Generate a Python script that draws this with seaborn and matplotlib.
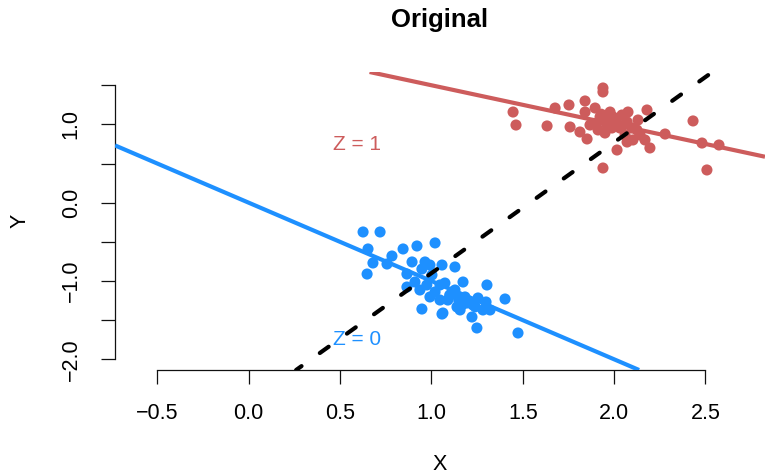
import matplotlib
matplotlib.use("Agg")
import matplotlib.pyplot as plt
import seaborn as sns
import numpy as np
import pandas as pd

# ---- data ----
x_z0 = [0.626, 0.719, 0.653, 0.680, 0.648, 0.757, 0.784, 0.845, 0.921, 1.020,
        0.894, 0.866, 0.948, 0.992, 1.058, 0.910, 0.866, 0.975, 1.020, 1.047,
        0.948, 1.058, 1.129, 1.074, 1.173, 1.304, 1.063, 1.140, 1.146, 1.222,
        1.249, 1.282, 1.321, 1.403, 1.474, 1.113, 1.195, 1.228, 1.157, 1.003,
        1.090, 1.184, 0.937, 0.992, 1.129, 1.255, 1.047, 0.965, 1.211, 1.299,
        1.150, 1.170, 1.100, 1.240]
y_z0 = [-0.374, -0.374, -0.591, -0.770, -0.911, -0.783, -0.681, -0.591, -0.553, -0.514,
        -0.757, -0.911, -0.847, -0.796, -0.796, -1.013, -1.077, -1.051, -1.140, -1.243,
        -1.358, -1.422, -0.821, -1.026, -1.013, -1.051, -1.409, -1.332, -1.204, -1.460,
        -1.600, -1.370, -1.370, -1.230, -1.664, -1.140, -1.281, -1.307, -1.370, -0.923,
        -1.243, -1.204, -1.115, -1.204, -1.115, -1.217, -1.051, -0.757, -1.268, -1.268,
        -1.250, -1.300, -1.180, -1.330]

x_z1 = [1.447, 1.463, 1.633, 1.677, 1.753, 1.841, 1.939, 1.939, 1.759, 1.813,
        1.852, 1.841, 1.896, 1.923, 1.978, 1.994, 1.961, 1.950, 1.906, 1.868,
        2.076, 2.180, 2.071, 2.098, 2.125, 2.142, 2.103, 2.071, 2.169, 2.196,
        2.016, 1.939, 2.279, 2.432, 2.481, 2.574, 2.508, 2.131, 2.032, 1.988,
        2.060, 1.912, 2.010, 2.043, 1.960, 2.000, 1.930, 2.050]
y_z1 = [1.158, 0.992, 0.980, 1.209, 1.248, 1.299, 1.465, 1.414, 0.967, 0.903,
        0.814, 1.158, 1.209, 1.095, 1.158, 1.095, 0.992, 0.890, 1.018, 0.992,
        1.158, 1.184, 1.031, 0.954, 0.929, 0.865, 0.801, 0.775, 0.801, 0.699,
        0.673, 0.443, 0.877, 1.044, 0.762, 0.737, 0.418, 1.056, 0.954, 0.954,
        0.865, 0.929, 1.056, 1.120, 1.050, 1.010, 1.130, 0.990]

# fitted lines: (intercept, slope)
line_z0 = (0.0, -1.0)
line_z1 = (2.0, -0.5)
line_all = (-2.57, 1.67)

x_ticks = [-0.5, 0.0, 0.5, 1.0, 1.5, 2.0, 2.5]
y_ticks = [-2.0, -1.5, -1.0, -0.5, 0.0, 0.5, 1.0, 1.5]
y_tick_labels = ["\u22122.0", "", "\u22121.0", "", "0.0", "", "1.0", ""]
x_tick_labels = ["\u22120.5", "0.0", "0.5", "1.0", "1.5", "2.0", "2.5"]

label_z0 = ("Z = 0", 0.595, -1.753)
label_z1 = ("Z = 1", 0.593, 0.737)

BLUE = "#1E90FF"
RED = "#CD5C5C"

df = pd.DataFrame({
    "X": x_z0 + x_z1,
    "Y": y_z0 + y_z1,
    "Z": ["0"] * len(x_z0) + ["1"] * len(x_z1),
})

sns.set_style("white")
plt.rcParams["font.family"] = ["Liberation Sans", "DejaVu Sans"]
plt.rcParams["text.color"] = "black"
plt.rcParams["axes.labelcolor"] = "black"

W, H = 765, 474
fig = plt.figure(figsize=(W / 100, H / 100), dpi=100)
ax = fig.add_axes([115 / W, 104 / H, 650 / W, 298 / H])

sns.scatterplot(data=df, x="X", y="Y", hue="Z", palette={"0": BLUE, "1": RED},
                s=64, edgecolor="none", linewidth=0, legend=False, ax=ax, zorder=2)

ax.axline((0, line_z0[0]), slope=line_z0[1], color=BLUE, lw=3, zorder=3,
          solid_capstyle="butt")
ax.axline((0, line_z1[0]), slope=line_z1[1], color=RED, lw=3, zorder=3,
          solid_capstyle="butt")
ax.axline((0, line_all[0]), slope=line_all[1], color="black", lw=3, zorder=4,
          linestyle=(1.0, (2.6, 5.4)), dash_capstyle="round")

ax.text(label_z1[1], label_z1[2], label_z1[0], color=RED, fontsize=15,
        ha="center", va="center")
ax.text(label_z0[1], label_z0[2], label_z0[0], color=BLUE, fontsize=15,
        ha="center", va="center")

ax.set_xlim(-0.7318, 2.8259)
ax.set_ylim(-2.1367, 1.6692)

ax.set_xticks(x_ticks)
ax.set_xticklabels(x_tick_labels)
ax.set_yticks(y_ticks)
ax.set_yticklabels(y_tick_labels)

for s in ["top", "right"]:
    ax.spines[s].set_visible(False)
ax.spines["left"].set_bounds(y_ticks[0], y_ticks[-1])
ax.spines["bottom"].set_bounds(x_ticks[0], x_ticks[-1])
for s in ["left", "bottom"]:
    ax.spines[s].set_linewidth(0.9)
    ax.spines[s].set_color("#111111")

ax.tick_params(axis="both", direction="out", length=10, width=0.9,
               color="#111111", pad=14, labelsize=15.5, labelcolor="black",
               bottom=True, left=True)
for lab in ax.get_yticklabels():
    lab.set_rotation(90)
    lab.set_va("center")
    lab.set_ha("right")

ax.set_xlabel("")
ax.set_ylabel("")
fig.text(440 / W, 1 - 465 / H, "X", fontsize=15.5, ha="center", va="center",
         color="black")
fig.text(20 / W, 1 - 221 / H, "Y", fontsize=15.5, ha="center", va="center",
         rotation=90, color="black")
fig.text(440 / W, 1 - 20 / H, "Original", fontsize=18.5, fontweight="bold",
         ha="center", va="center", color="black")

fig.savefig("out.png", dpi=100)
